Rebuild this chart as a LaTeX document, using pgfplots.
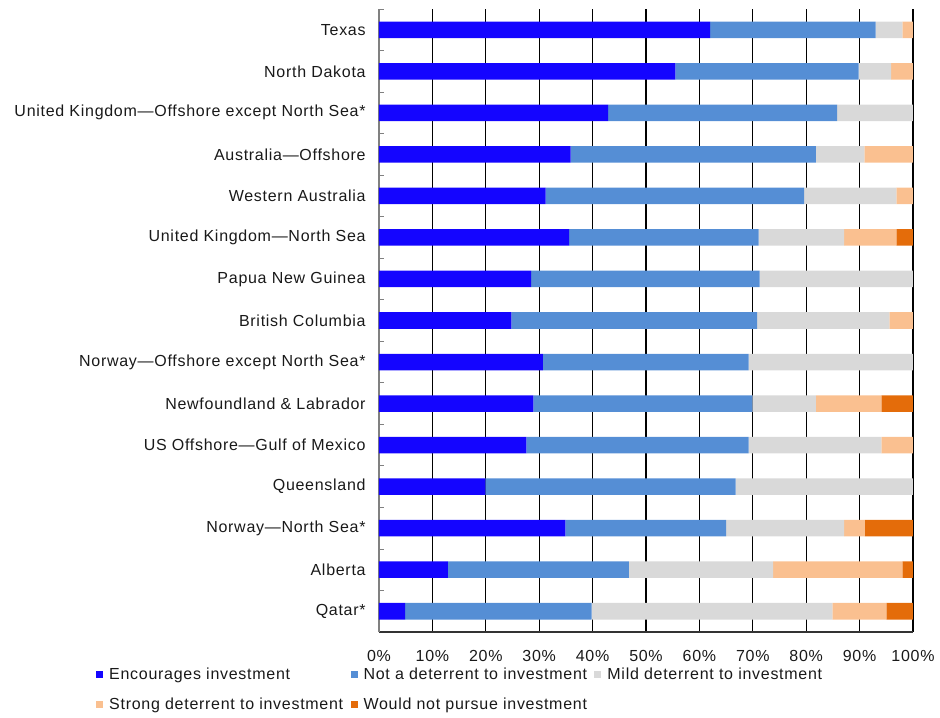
\documentclass[border=0pt]{standalone}
\usepackage{pgfplots}
\usepackage{pgfplotstable}
\pgfplotsset{compat=1.18}
\usepackage{fontspec}
\setmainfont[LetterSpace=4.5]{Liberation Sans}
\definecolor{cEnc}{HTML}{1405FF}
\definecolor{cNot}{HTML}{558ED5}
\definecolor{cMild}{HTML}{D9D9D9}
\definecolor{cStrong}{HTML}{FAC090}
\definecolor{cWould}{HTML}{E46C0A}
\pgfplotstableread{
idx enc not mild strong would
0  62.0 31.0  5.0  2.0 0
1  55.5 34.3  6.1  4.1 0
2  42.9 42.9 14.2  0   0
3  35.9 45.9  9.1  9.1 0
4  31.2 48.4 17.3  3.1 0
5  35.6 35.5 16.0  9.8 3.1
6  28.5 42.8 28.7  0   0
7  24.8 46.0 24.8  4.4 0
8  30.7 38.5 30.8  0   0
9  28.9 41.0 11.9 12.3 5.9
10 27.6 41.6 24.9  5.9 0
11 19.9 46.9 33.2  0   0
12 34.9 30.1 22.1  3.9 9.0
13 12.9 33.9 27.0 24.2 2.0
14  4.9 34.9 45.1 10.1 5.0
}\datatable
\begin{document}
\begin{tikzpicture}
\begin{axis}[
  scale only axis,
  width=400.5pt, height=467.25pt,
  xbar stacked,
  bar width=12.4pt,
  y dir=reverse,
  xmin=0, xmax=100,
  ymin=-0.5, ymax=14.5,
  xtick={0,10,...,100},
  xticklabel={\pgfmathprintnumber{\tick}\%},
  /pgf/number format/assume math mode=true,
  ytick={0,...,14},
  yticklabels={Texas,North Dakota,United Kingdom—Offshore except North Sea*,Australia—Offshore,Western Australia,United Kingdom—North Sea,Papua New Guinea,British Columbia,Norway—Offshore except North Sea*,Newfoundland \& Labrador,US Offshore—Gulf of Mexico,Queensland,Norway—North Sea*,Alberta,Qatar*},
  minor ytick={-0.5,0.5,...,14.5},
  major y tick style={draw=none},
  minor y tick style={gray, line width=0.6pt},
  minor tick length=4pt,
  tick align=inside,
  xtick style={draw=none},
  axis x line*=bottom,
  axis y line*=left,
  x axis line style={black!80, line width=0.8pt, -},
  y axis line style={gray, line width=0.8pt, -},
  xmajorgrids,
  major grid style={black, line width=1pt},
  ticklabel style={font=\fontsize{12}{14}\selectfont, text=black!90},
  yticklabel style={xshift=-6.5pt},
  xticklabel style={yshift=-10pt},
  legend columns=3,
  legend style={draw=none, fill=none, at={(-0.53,-0.055)}, anchor=north west,
    font=\fontsize{12}{14}\selectfont, text=black!90,
    /tikz/every even column/.append style={column sep=4.5pt},
    /tikz/every odd column/.append style={column sep=3.5pt},
    row sep=10pt, inner sep=0pt, nodes={inner sep=1pt}},
  legend image code/.code={\draw[#1,draw=none] (0pt,-2.6pt) rectangle (5.25pt,2.65pt);},
  legend cell align=left,
]
\addplot[fill=cEnc, draw=none] table[x=enc, y=idx] {\datatable};
\addplot[fill=cNot, draw=none] table[x=not, y=idx] {\datatable};
\addplot[fill=cMild, draw=none] table[x=mild, y=idx] {\datatable};
\addplot[fill=cStrong, draw=none] table[x=strong, y=idx] {\datatable};
\addplot[fill=cWould, draw=none] table[x=would, y=idx] {\datatable};
\legend{Encourages investment,Not a deterrent to investment,Mild deterrent to investment,Strong deterrent to investment,Would not pursue investment}
\end{axis}
\path (-284.25pt,-64.5pt) rectangle (420.75pt,474pt);
\end{tikzpicture}
\end{document}
